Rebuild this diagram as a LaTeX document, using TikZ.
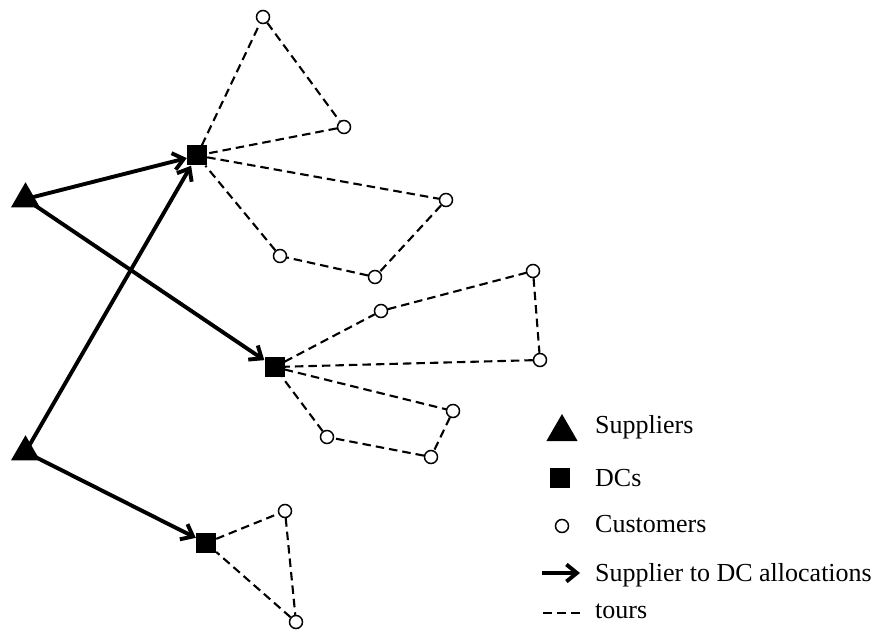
\documentclass[tikz,border=0pt]{standalone}
\usepackage{fontspec}
\setmainfont{Liberation Serif}
\usetikzlibrary{shapes.geometric,arrows.meta}
\tikzset{
  supplier/.style={regular polygon, regular polygon sides=3, fill=black, inner sep=0pt, minimum size=33.5pt},
  dc/.style={rectangle, fill=black, inner sep=0pt, minimum size=20pt},
  cust/.style={circle, draw=black, fill=white, line width=1.5pt, inner sep=0pt, minimum size=13pt},
  alloc/.style={line width=3.9pt, -{Straight Barb[length=10.5pt,width=17pt]}},
  tour/.style={line width=2.1pt, dash pattern=on 8.5pt off 5pt},
  lbl/.style={anchor=base west, inner sep=0pt, font=\fontsize{26}{30}\selectfont}
}
\begin{document}
\begin{tikzpicture}[x=1pt,y=-1pt]
\useasboundingbox (0,0) rectangle (885,631);
% suppliers
\node[supplier] (S1) at (25.5,199) {};
\node[supplier] (S2) at (25.5,452) {};
% DCs
\node[dc] (D1) at (197,155.5) {};
\node[dc] (D2) at (274.5,367) {};
\node[dc] (D3) at (206,543) {};
% customers
\node[cust] (C1) at (263,17) {};
\node[cust] (C2) at (344,127) {};
\node[cust] (C3) at (446,200) {};
\node[cust] (C4) at (375,277) {};
\node[cust] (C5) at (280,256) {};
\node[cust] (C6) at (533,271) {};
\node[cust] (C7) at (540,360) {};
\node[cust] (C8) at (381,311) {};
\node[cust] (C9) at (453,411) {};
\node[cust] (C10) at (431,457) {};
\node[cust] (C11) at (327,437) {};
\node[cust] (C12) at (285,511) {};
\node[cust] (C13) at (296,622) {};
% tours
\draw[tour] (D1) -- (C1) -- (C2) -- (D1);
\draw[tour] (D1) -- (C3) -- (C4) -- (C5) -- (D1);
\draw[tour] (D2) -- (C8) -- (C6) -- (C7) -- (D2);
\draw[tour] (D2) -- (C9) -- (C10) -- (C11) -- (D2);
\draw[tour] (D3) -- (C12) -- (C13) -- (D3);
% allocations
\draw[alloc] (S1.center) -- (D1);
\draw[alloc] (S1.center) -- (D2);
\draw[alloc] (S2.center) -- (D1);
\draw[alloc] (S2.center) -- (D3);
% legend
\node[supplier, minimum size=36pt] (LS) at (562,432) {};
\node[dc] (LD) at (560,478) {};
\node[cust] (LC) at (562,526) {};
\coordinate (LA1) at (542,573);
\coordinate (LA2) at (580,573);
\draw[alloc] (LA1) -- (LA2);
\coordinate (LT1) at (543,613);
\coordinate (LT2) at (581,613);
\draw[line width=2.1pt, dash pattern=on 9pt off 5pt] (LT1) -- (LT2);
\node[lbl] (tS) at (595,433) {Suppliers};
\node[lbl] (tD) at (595,486) {DCs};
\node[lbl] (tC) at (595,532) {Customers};
\node[lbl] (tA) at (595,581) {Supplier to DC allocations};
\node[lbl] (tT) at (595,618) {tours};
\end{tikzpicture}
\end{document}
